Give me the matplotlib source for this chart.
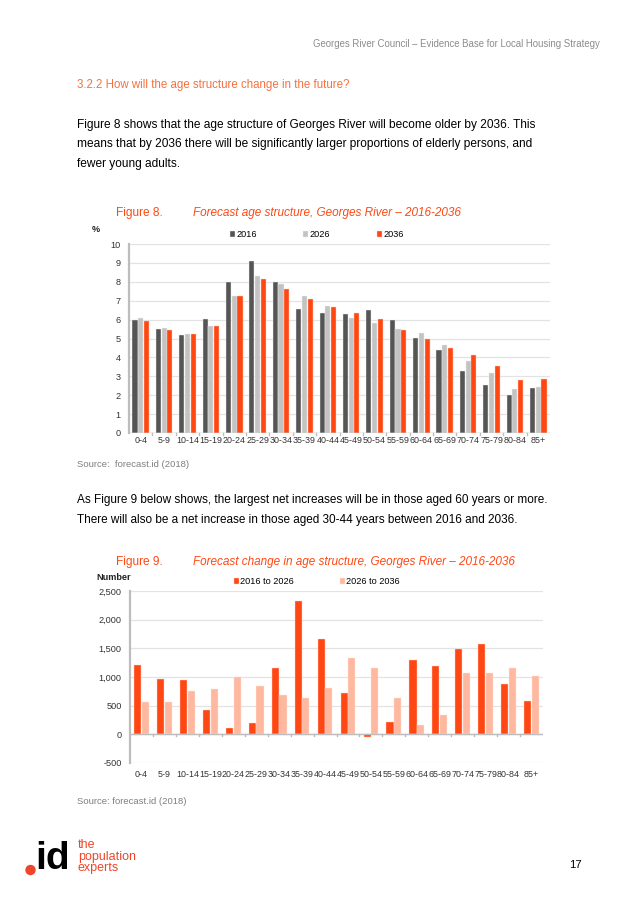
import matplotlib.pyplot as plt
from matplotlib.patches import Ellipse
import numpy as np

plt.rcParams['font.family'] = ['Liberation Sans', 'DejaVu Sans']

ages = ['0-4', '5-9', '10-14', '15-19', '20-24', '25-29', '30-34', '35-39', '40-44',
        '45-49', '50-54', '55-59', '60-64', '65-69', '70-74', '75-79', '80-84', '85+']

# Figure 8 - % of population
pct_2016 = [5.98, 5.52, 5.20, 6.05, 7.98, 9.12, 7.98, 6.57, 6.37,
            6.32, 6.51, 5.98, 5.03, 4.37, 3.27, 2.55, 2.00, 2.39]
pct_2026 = [6.10, 5.56, 5.22, 5.66, 7.24, 8.30, 7.88, 7.27, 6.73,
            6.10, 5.82, 5.52, 5.31, 4.67, 3.81, 3.20, 2.34, 2.46]
pct_2036 = [5.95, 5.43, 5.26, 5.68, 7.24, 8.16, 7.63, 7.08, 6.65,
            6.37, 6.02, 5.43, 4.97, 4.50, 4.11, 3.56, 2.81, 2.88]

# Figure 9 - change in number of persons
chg_16_26 = [1215, 966, 949, 417, 104, 197, 1157, 2321, 1655,
             718, -46, 220, 1290, 1192, 1481, 1574, 885, 585]
chg_26_36 = [567, 556, 764, 799, 995, 845, 689, 642, 816,
             1331, 1157, 637, 162, 341, 1071, 1065, 1157, 1019]

ORANGE = '#ff4713'
HEAD = '#f7703f'
W, H = 637, 901

fig = plt.figure(figsize=(W / 100, H / 100), dpi=100)


def txt(x, y, s, **kw):
    kw.setdefault('va', 'center')
    fig.text(x / W, 1 - y / H, s, **kw)


def axes_px(left, top, right, bottom):
    return fig.add_axes([left / W, 1 - bottom / H, (right - left) / W, (bottom - top) / H])


# page text
txt(600, 44, 'Georges River Council \u2013 Evidence Base for Local Housing Strategy',
    ha='right', fontsize=6.9, color='#8c8c8c')
txt(77, 85, '3.2.2 How will the age structure change in the future?', fontsize=8.3, color=HEAD)
para1 = ['Figure 8 shows that the age structure of Georges River will become older by 2036. This',
         'means that by 2036 there will be significantly larger proportions of elderly persons, and',
         'fewer young adults.']
for i, line in enumerate(para1):
    txt(77, 125 + i * 19.5, line, fontsize=8.55, color='black')

txt(116, 213, 'Figure 8.', fontsize=8.6, color=ORANGE)
txt(193, 213, 'Forecast age structure, Georges River \u2013 2016-2036', fontsize=8.5,
    color=ORANGE, style='italic')
txt(77, 465, 'Source:  forecast.id (2018)', fontsize=6.8, color='#7f7f7f')

para2 = ['As Figure 9 below shows, the largest net increases will be in those aged 60 years or more.',
         'There will also be a net increase in those aged 30-44 years between 2016 and 2036.']
for i, line in enumerate(para2):
    txt(77, 500 + i * 19.5, line, fontsize=8.5, color='black')

txt(116, 562, 'Figure 9.', fontsize=8.6, color=ORANGE)
txt(193, 562, 'Forecast change in age structure, Georges River \u2013 2016-2036', fontsize=8.5,
    color=ORANGE, style='italic')
txt(77, 801, 'Source: forecast.id (2018)', fontsize=6.8, color='#7f7f7f')

# logo + page number
txt(35, 859, 'id', fontsize=28, fontweight='bold', color='black')
fig.add_artist(Ellipse((30.5 / W, 1 - 870 / H), 9 / W, 9 / H, transform=fig.transFigure,
                       color='#f0452a'))
for i, w in enumerate(['the', 'population', 'experts']):
    txt(78, 845 + i * 11.7, w, fontsize=9.0, color='#f0452a')
txt(569, 865, '17', fontsize=8.2, color='black')

x = np.arange(len(ages))


def style_axes(ax, ymin, ymax, step):
    ax.set_xlim(-0.5, len(ages) - 0.5)
    ax.set_ylim(ymin, ymax)
    ax.set_yticks(np.arange(ymin, ymax + step / 2, step))
    ax.yaxis.grid(True, color='#e3e3e3', linewidth=0.9)
    ax.set_axisbelow(True)
    for s in ['top', 'right', 'bottom']:
        ax.spines[s].set_visible(False)
    ax.spines['left'].set_color('#bdbdbd')
    ax.spines['left'].set_linewidth(1.6)
    ax.tick_params(axis='y', length=0, labelsize=6.6, labelcolor='#333333', pad=6)
    ax.set_xticks(x)
    ax.set_xticklabels(ages)
    ax.tick_params(axis='x', length=0, labelsize=6.4, labelcolor='#333333')
    # zero line with group separators
    ax.axhline(0, color='#bdbdbd', linewidth=1.0)
    for b in np.arange(0.5, len(ages) - 0.5, 1):
        ax.plot([b, b], [0, -(ymax - ymin) * 0.012], color='#bdbdbd', linewidth=1.0,
                clip_on=False)


# Figure 8 chart
ax1 = axes_px(129, 244, 550, 433)
bw = 0.22
off = 0.245
ax1.bar(x - off, pct_2016, bw, color='#555555', edgecolor='#f0f0f0', linewidth=0.3, label='2016')
ax1.bar(x, pct_2026, bw, color='#c3c3c3', edgecolor='#f0f0f0', linewidth=0.3, label='2026')
ax1.bar(x + off, pct_2036, bw, color=ORANGE, edgecolor='#fbd3c4', linewidth=0.3, label='2036')
style_axes(ax1, 0, 10, 1)
ax1.tick_params(axis='x', pad=2)
txt(92, 229, '%', fontsize=6.6, fontweight='bold', color='#222222')
ax1.legend(loc='lower left', bbox_to_anchor=(0.228, 1.0), ncol=3, frameon=False,
           fontsize=6.6, handlelength=0.55, handleheight=0.55, handletextpad=0.15,
           columnspacing=5.1, borderaxespad=0.1)

# Figure 9 chart
ax2 = axes_px(130, 591, 543, 763)
bw2 = 0.31
off2 = 0.335
ax2.bar(x - off2 / 2, chg_16_26, bw2, color=ORANGE, edgecolor='#ffd2c2', linewidth=0.3,
        label='2016 to 2026')
ax2.bar(x + off2 / 2, chg_26_36, bw2, color='#ffb8a0', edgecolor='#ffe4da', linewidth=0.3,
        label='2026 to 2036')
style_axes(ax2, -500, 2500, 500)
ax2.yaxis.set_major_formatter(plt.FuncFormatter(lambda v, p: f'{int(v):,}'))
ax2.tick_params(axis='x', pad=5)
txt(96, 577, 'Number', fontsize=6.6, fontweight='bold', color='#222222')
ax2.legend(loc='lower left', bbox_to_anchor=(0.24, 1.0), ncol=2, frameon=False,
           fontsize=6.6, handlelength=0.55, handleheight=0.55, handletextpad=0.15,
           columnspacing=5.0, borderaxespad=0.1)

fig.savefig('out.png', dpi=100, facecolor='white')
